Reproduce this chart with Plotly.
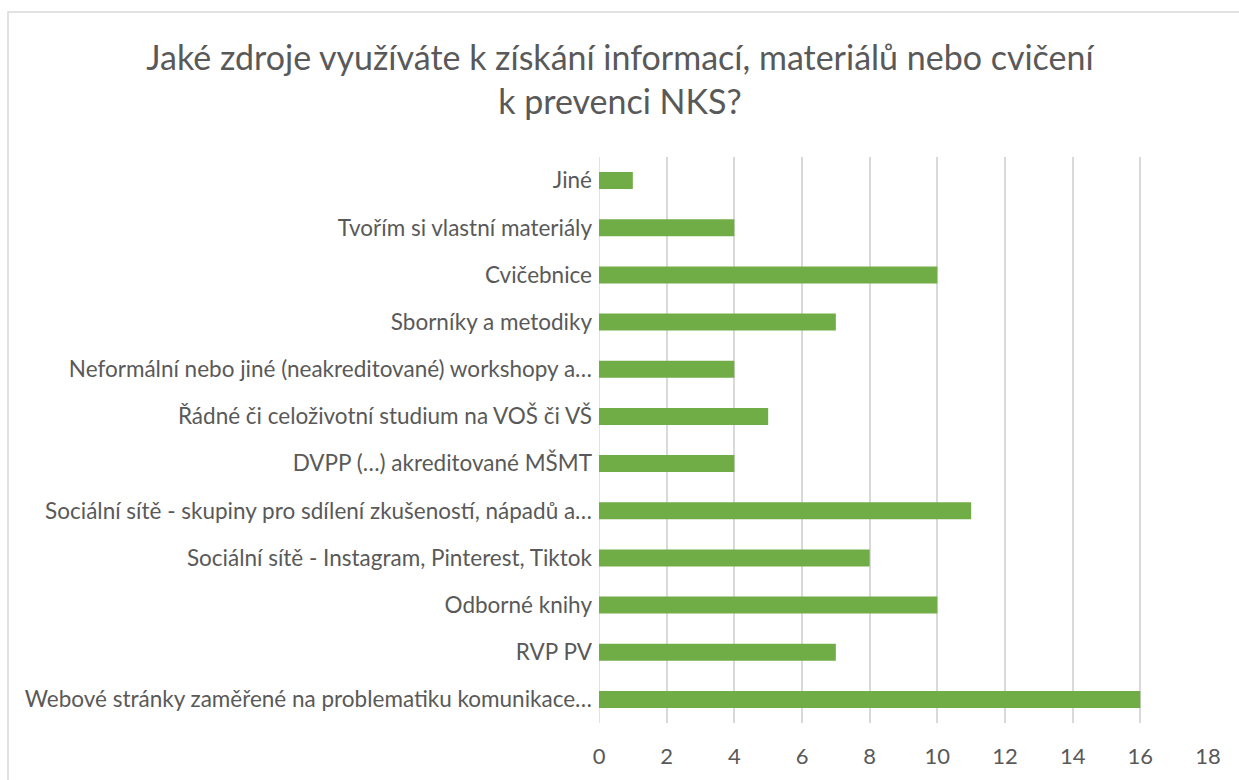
import plotly.graph_objects as go

categories = [
    "Jiné",
    "Tvořím si vlastní materiály",
    "Cvičebnice",
    "Sborníky a metodiky",
    "Neformální nebo jiné (neakreditované) workshopy a…",
    "Řádné či celoživotní studium na VOŠ či VŠ",
    "DVPP (…) akreditované MŠMT",
    "Sociální sítě - skupiny pro sdílení zkušeností, nápadů a…",
    "Sociální sítě - Instagram, Pinterest, Tiktok",
    "Odborné knihy",
    "RVP PV",
    "Webové stránky zaměřené na problematiku komunikace…",
]
values = [1, 4, 10, 7, 4, 5, 4, 11, 8, 10, 7, 16]
x_ticks = [0, 2, 4, 6, 8, 10, 12, 14, 16, 18]

title_text = "Jaké zdroje využíváte k získání informací, materiálů nebo cvičení<br>k prevenci NKS?"

FONT = "Lato"
TXT = "#595959"

fig = go.Figure(go.Bar(
    x=values, y=categories, orientation="h",
    marker=dict(color="#70AD47", line=dict(width=0)),
    width=0.36,
))

L, R, T, B = 599, 1208, 157, 723
W, H = 1239, 780

fig.update_layout(
    width=W, height=H,
    margin=dict(l=L, r=W - R, t=T, b=H - B, pad=0),
    paper_bgcolor="white", plot_bgcolor="white",
    showlegend=False,
    title=dict(text=title_text, x=620 / W, xref="container", xanchor="center",
               y=1 - 81 / H, yanchor="middle",
               font=dict(family=FONT, size=34, color=TXT)),
    xaxis=dict(range=[0, 18], tickvals=x_ticks, showgrid=True,
               gridcolor="#D9D9D9", gridwidth=1.5, zeroline=False,
               showline=False, ticks="",
               tickfont=dict(family=FONT, size=22, color=TXT),
               ticklabelstandoff=18),
    yaxis=dict(autorange="reversed", showgrid=False, zeroline=False,
               showline=False, ticks="",
               tickfont=dict(family=FONT, size=22.5, color=TXT),
               ticklabelstandoff=6),
    shapes=[dict(type="rect", xref="paper", yref="paper",
                 x0=(8 - L) / (R - L), x1=(W + 10 - L) / (R - L),
                 y0=(B - (H + 10)) / (B - T), y1=(B - 12) / (B - T),
                 line=dict(color="#D9D9D9", width=1.5), layer="below")],
)
fig.update_layout(title_y=1 - 70 / H)
fig.add_vline(x=0, line=dict(color="#D9D9D9", width=1.5), layer="below")

fig.write_html("out.html", config={"displayModeBar": False},
               post_script="document.body.style.margin='0';")
